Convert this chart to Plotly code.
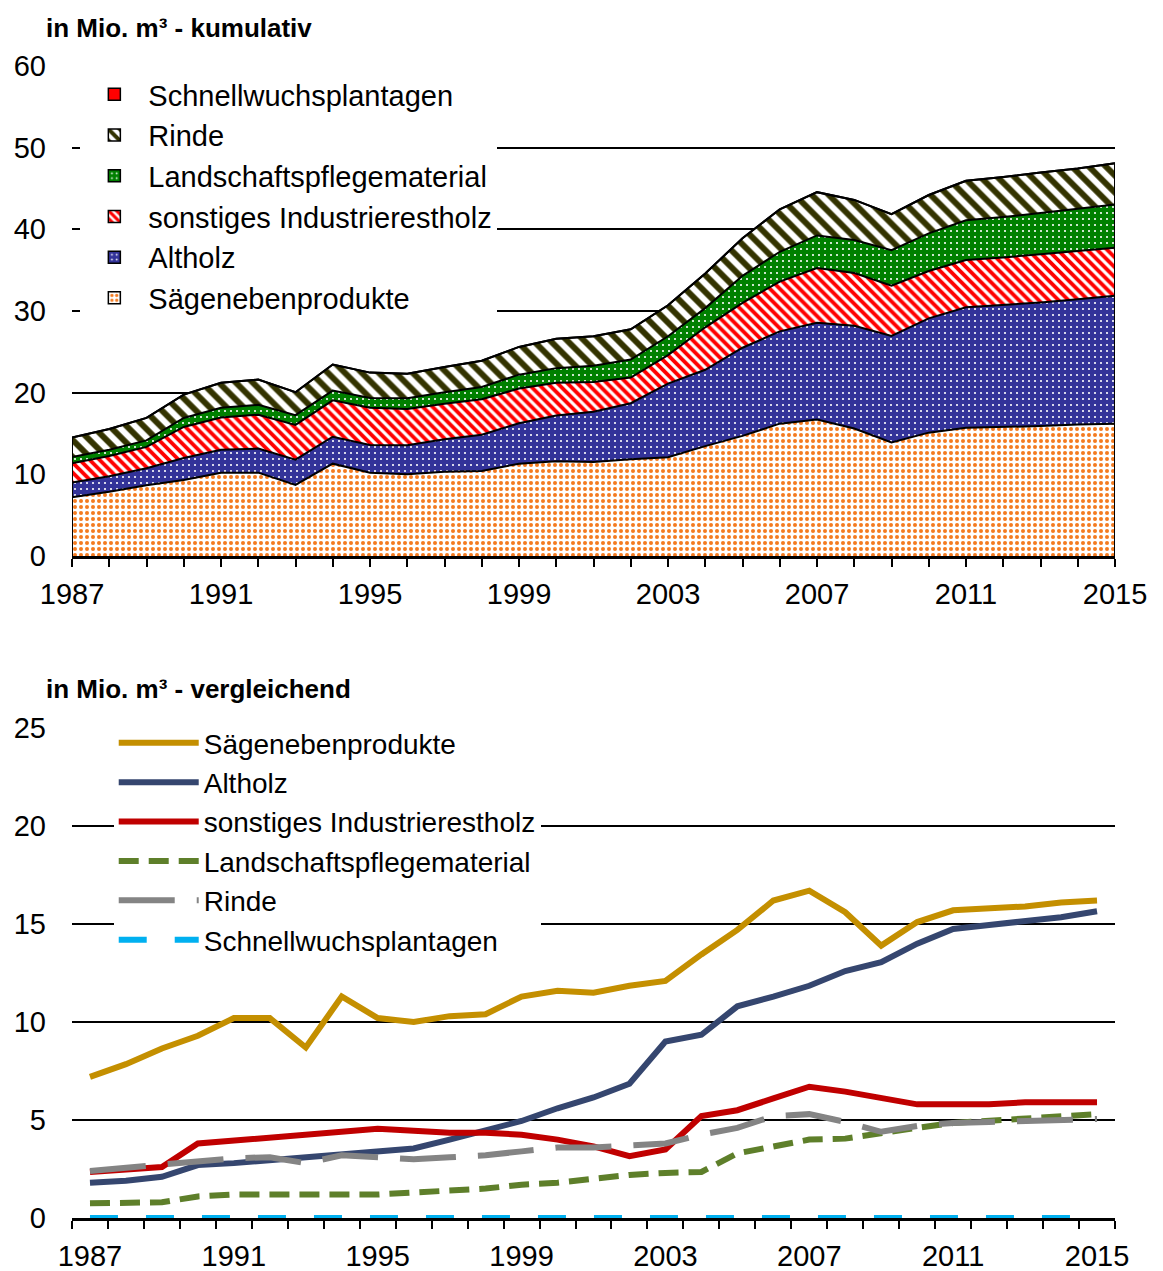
import plotly.graph_objects as go

# Jahre (x-Achse beider Diagramme)
jahre = list(range(1987, 2016))
tick_jahre = [1987, 1991, 1995, 1999, 2003, 2007, 2011, 2015]

saege = [7.2, 7.85, 8.65, 9.3, 10.2, 10.2, 8.7, 11.3, 10.2, 10.0, 10.3, 10.4, 11.3, 11.6, 11.5,
         11.85, 12.1, 13.45, 14.7, 16.2, 16.7, 15.6, 13.9, 15.1, 15.7, 15.8, 15.9, 16.1, 16.2]
altholz = [1.8, 1.9, 2.1, 2.7, 2.8, 2.95, 3.1, 3.3, 3.4, 3.55, 4.0, 4.45, 4.95, 5.6, 6.15,
           6.85, 9.0, 9.35, 10.8, 11.3, 11.85, 12.6, 13.05, 14.0, 14.75, 14.95, 15.15, 15.35, 15.65]
sonstiges = [2.35, 2.5, 2.6, 3.8, 3.95, 4.15, 4.25, 4.45, 4.55, 4.45, 4.35, 4.35, 4.25, 4.0, 3.65,
             3.15, 3.5, 5.2, 5.5, 6.1, 6.7, 6.45, 6.15, 5.8, 5.8, 5.8, 5.9, 5.9, 5.9]
landschaft = [0.75, 0.75, 0.8, 1.1, 1.2, 1.2, 1.2, 1.2, 1.2, 1.3, 1.4, 1.5, 1.7, 1.8, 2.0,
              2.2, 2.3, 2.35, 3.3, 3.65, 4.0, 4.05, 4.35, 4.6, 4.85, 4.95, 5.05, 5.15, 5.3]
rinde = [2.4, 2.55, 2.75, 2.85, 3.05, 3.1, 2.8, 3.2, 3.1, 3.0, 3.1, 3.2, 3.4, 3.6, 3.6,
         3.7, 3.8, 4.25, 4.6, 5.2, 5.3, 4.9, 4.4, 4.7, 4.85, 4.9, 4.95, 4.95, 5.05]
schnell = [0, 0, 0, 0, 0, 0, 0, 0, 0, 0, 0, 0, 0, 0, 0,
           0, 0, 0, 0, 0, 0, 0, 0, 0, 0, 0, 0, 0, 0]

FONT = "Liberation Sans, Arial, sans-serif"

fig = go.Figure()

# oberes Diagramm: gestapelte Flächen mit Mustern
flaechen = [
    ("Sägenebenprodukte", saege, dict(shape=".", fgcolor="#F47B20", bgcolor="white", size=6, solidity=0.35, fgopacity=1)),
    ("Altholz", altholz, dict(shape=".", fgcolor="white", bgcolor="#333399", size=6, solidity=0.1, fgopacity=1)),
    ("sonstiges Industrierestholz", sonstiges, dict(shape="\\", fgcolor="#FF0000", bgcolor="white", size=7, solidity=0.55, fgopacity=1)),
    ("Landschaftspflegematerial", landschaft, dict(shape=".", fgcolor="white", bgcolor="#008000", size=6, solidity=0.1, fgopacity=1)),
    ("Rinde", rinde, dict(shape="\\", fgcolor="#333300", bgcolor="white", size=12, solidity=0.5, fgopacity=1)),
    ("Schnellwuchsplantagen", schnell, dict(shape="", fgcolor="#FF0000", bgcolor="#FF0000")),
]
for name, werte, muster in flaechen:
    fig.add_trace(go.Scatter(
        x=jahre, y=werte, name=name, mode="lines", stackgroup="kum",
        line=dict(color="black", width=2), fillcolor=muster["bgcolor"], fillpattern=muster,
        showlegend=False, xaxis="x", yaxis="y",
    ))
    # Legendeneintrag als Quadrat mit Muster
    fig.add_trace(go.Bar(
        x=[None], y=[None], name=name,
        marker=dict(color=muster["bgcolor"], pattern=muster, line=dict(color="black", width=1.5)),
        legend="legend", xaxis="x", yaxis="y",
    ))

# senkrechte Randlinien der Flächen
summe = [a + b + c + d + e + f for a, b, c, d, e, f in zip(saege, altholz, sonstiges, landschaft, rinde, schnell)]
fig.add_trace(go.Scatter(
    x=[jahre[0], jahre[0], None, jahre[-1], jahre[-1]],
    y=[0, summe[0], None, 0, summe[-1]],
    mode="lines", line=dict(color="black", width=2), showlegend=False, xaxis="x", yaxis="y",
))

# unteres Diagramm: Linien
linien = [
    ("Sägenebenprodukte", saege, "#C48F00", "solid"),
    ("Altholz", altholz, "#35466F", "solid"),
    ("sonstiges Industrierestholz", sonstiges, "#C00000", "solid"),
    ("Landschaftspflegematerial", landschaft, "#5E7F2A", "20px,10px"),
    ("Rinde", rinde, "#848484", "56px,22px"),
    ("Schnellwuchsplantagen", schnell, "#00B0F0", "28px,28px"),
]
for name, werte, farbe, strich in linien:
    fig.add_trace(go.Scatter(
        x=jahre, y=werte, name=name, mode="lines",
        line=dict(color=farbe, width=6, dash=strich),
        legend="legend2", xaxis="x2", yaxis="y2",
    ))

achse_text = dict(family=FONT, size=29, color="black")

# die Seite hat 8px Rand, deshalb ist die Figur etwas kleiner
fig.update_layout(
    width=1155, height=1263,
    margin=dict(l=64, r=48, t=58, b=53),
    paper_bgcolor="white", plot_bgcolor="white",
    font=dict(family=FONT, color="black"),
    showlegend=True,
    xaxis=dict(
        domain=[0, 1], anchor="y", range=[1987, 2015], tickvals=tick_jahre, automargin=False,
        ticks="outside", ticklen=8, tickwidth=2, tickcolor="black",
        minor=dict(ticks="outside", dtick=1, tick0=1987, ticklen=8, tickwidth=2, tickcolor="black"),
        showline=True, linecolor="black", linewidth=3, showgrid=False, zeroline=False,
        tickfont=achse_text, ticklabelstandoff=2,
    ),
    yaxis=dict(
        domain=[0.5747, 1.0], anchor="x", range=[0, 60], dtick=10, automargin=False,
        showgrid=True, gridcolor="black", gridwidth=1.5, zeroline=False, showline=False,
        tickfont=achse_text, ticklabelstandoff=25,
    ),
    xaxis2=dict(
        domain=[0, 1], anchor="y2", range=[1986.5, 2015.5], tickvals=tick_jahre, automargin=False,
        ticks="", minor=dict(ticks="outside", dtick=1, tick0=1986.5, ticklen=8, tickwidth=2, tickcolor="black"),
        showline=True, linecolor="black", linewidth=3, showgrid=False, zeroline=False,
        tickfont=achse_text, ticklabelstandoff=10, layer="below traces",
    ),
    yaxis2=dict(
        domain=[0, 0.4253], anchor="x2", range=[0, 25], dtick=5, automargin=False,
        showgrid=True, gridcolor="black", gridwidth=1.5, zeroline=False, showline=False,
        tickfont=achse_text, ticklabelstandoff=25,
    ),
    legend=dict(
        x=0.008, y=0.9974, xanchor="left", yanchor="top", traceorder="reversed",
        bgcolor="white", font=dict(family=FONT, size=29, color="black"), itemwidth=58,
    ),
    legend2=dict(
        x=0.04, y=0.434, xanchor="left", yanchor="top", traceorder="normal",
        bgcolor="white", font=dict(family=FONT, size=28, color="black"), itemwidth=80,
    ),
    annotations=[
        dict(text="<b>in Mio. m³ - kumulativ</b>", xref="paper", yref="paper", x=-0.027, y=1.033,
             xanchor="left", yanchor="middle", showarrow=False, font=dict(family=FONT, size=26)),
        dict(text="<b>in Mio. m³ - vergleichend</b>", xref="paper", yref="paper", x=-0.027, y=0.459,
             xanchor="left", yanchor="middle", showarrow=False, font=dict(family=FONT, size=26)),
    ],
)

fig.write_html("out.html")
